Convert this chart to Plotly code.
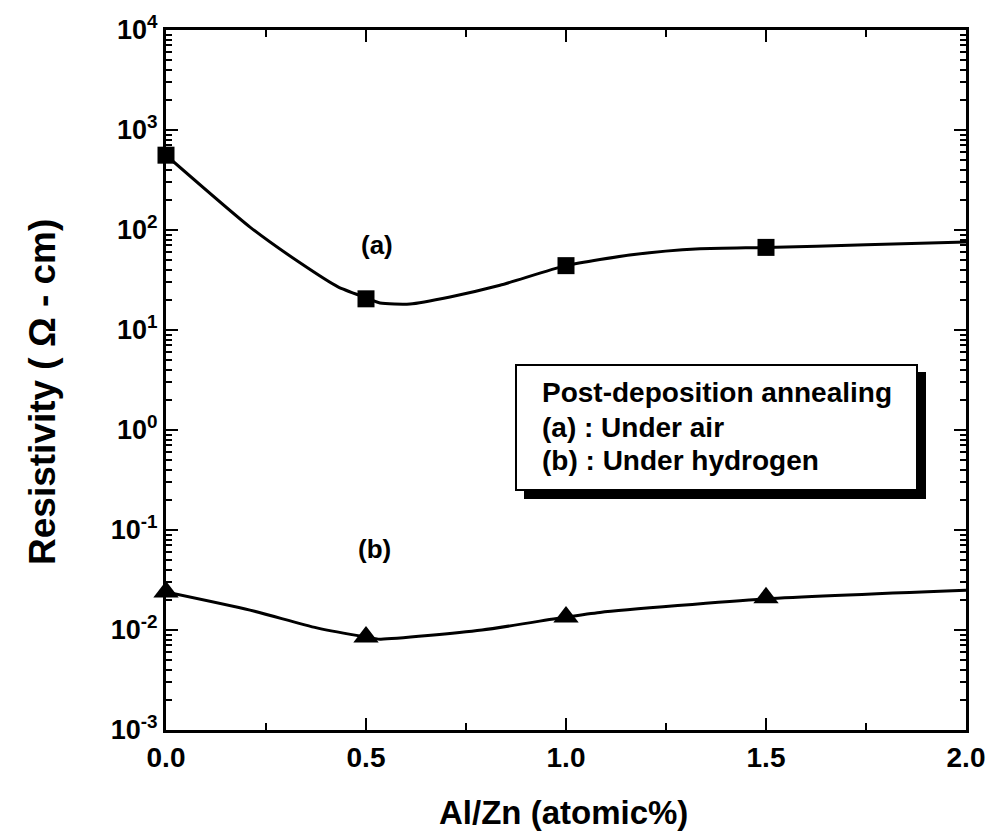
import plotly.graph_objects as go

# Measured data points
x_pts = [0.0, 0.5, 1.0, 1.5]
air_pts = [560, 20.5, 44, 67]
h2_pts = [0.024, 0.0085, 0.0135, 0.021]

# Smooth guide curves
air_curve_x = [0.0, 0.21, 0.335, 0.43, 0.5, 0.535, 0.61, 0.71, 0.835, 1.0, 1.17, 1.335, 1.5, 1.75, 2.0]
air_curve_y = [560, 107, 47, 27, 21, 18.6, 18.2, 21.4, 28, 44, 57, 65, 67, 71, 76]
h2_curve_x = [0.0, 0.21, 0.377, 0.5, 0.535, 0.79, 1.0, 1.085, 1.5, 2.0]
h2_curve_y = [0.024, 0.0158, 0.0105, 0.0085, 0.0081, 0.0100, 0.0135, 0.015, 0.0205, 0.025]

x_ticks = [0.0, 0.5, 1.0, 1.5, 2.0]
x_tick_text = ["0.0", "0.5", "1.0", "1.5", "2.0"]
y_exps = [-3, -2, -1, 0, 1, 2, 3, 4]

FONT = "Liberation Sans, Arial, sans-serif"

fig = go.Figure()
for cx, cy in [(air_curve_x, air_curve_y), (h2_curve_x, h2_curve_y)]:
    fig.add_trace(go.Scatter(x=cx, y=cy, mode="lines",
                             line=dict(color="black", width=3, shape="spline", smoothing=0.6),
                             showlegend=False, hoverinfo="skip"))
fig.add_trace(go.Scatter(x=x_pts, y=air_pts, mode="markers",
                         marker=dict(symbol="square", size=17, color="black"),
                         showlegend=False, cliponaxis=False))
fig.add_trace(go.Scatter(x=x_pts, y=h2_pts, mode="markers",
                         marker=dict(symbol="triangle-up", size=22, color="black"),
                         showlegend=False, cliponaxis=False))

y_vals = [10.0 ** e for e in y_exps]
y_text = ["<b>10<sup>%d</sup></b>" % e for e in y_exps]
minor_y = [m * 10.0 ** e for e in y_exps[:-1] for m in range(2, 10)]

axis_common = dict(showline=True, linecolor="black", linewidth=3, mirror="ticks",
                   ticks="inside", tickcolor="black", tickwidth=2, showgrid=False,
                   zeroline=False)

fig.update_xaxes(range=[0, 2], tickvals=x_ticks,
                 ticktext=["<b>%s</b>" % t for t in x_tick_text],
                 ticklen=12, tickfont=dict(family=FONT, size=28, color="black"),
                 minor=dict(ticks="inside", ticklen=7, tickwidth=2, tickcolor="black",
                            tickvals=[0.25, 0.75, 1.25, 1.75]),
                 **axis_common)
fig.update_yaxes(type="log", range=[-3, 4], tickvals=y_vals, ticktext=y_text,
                 ticklen=12, tickfont=dict(family=FONT, size=27, color="black"),
                 minor=dict(ticks="inside", ticklen=6, tickwidth=1.5, tickcolor="black",
                            tickvals=minor_y),
                 **axis_common)

W, H = 1003, 834
L, R, T, B = 166, 37, 30, 104
pw, ph = W - L - R, H - T - B

def px(xp):
    return (xp - L) / pw

def py(yp):
    return (H - B - yp) / ph

annotations = [
    dict(x=px(563), y=py(812), text="<b>Al/Zn (atomic%)</b>", font=dict(size=33)),
    dict(x=px(42), y=py(392), text="<b>Resistivity ( \u03a9 - cm)</b>", font=dict(size=37),
         textangle=-90),
    dict(x=px(377), y=py(245), text="<b>(a)</b>", font=dict(size=26)),
    dict(x=px(374), y=py(549), text="<b>(b)</b>", font=dict(size=26)),
    dict(x=px(540), y=py(392), text="<b>Post-deposition annealing</b>", xanchor="left",
         font=dict(size=28)),
    dict(x=px(540), y=py(427), text="<b>(a) : Under air</b>", xanchor="left",
         font=dict(size=28)),
    dict(x=px(540), y=py(460), text="<b>(b) : Under hydrogen</b>", xanchor="left",
         font=dict(size=28)),
]
for a in annotations:
    a.update(xref="paper", yref="paper", showarrow=False, yanchor="middle")
    a.setdefault("xanchor", "center")
    a["font"].update(family=FONT, color="black")

shapes = [
    # shadow
    dict(type="rect", x0=px(524), x1=px(926), y0=py(372), y1=py(499),
         fillcolor="black", line=dict(width=0)),
    # box
    dict(type="rect", x0=px(516), x1=px(917), y0=py(365), y1=py(490),
         fillcolor="white", line=dict(color="black", width=2)),
]
for s in shapes:
    s.update(xref="paper", yref="paper", layer="above")

fig.update_layout(width=W, height=H, margin=dict(l=L, r=R, t=T, b=B),
                  plot_bgcolor="white", paper_bgcolor="white",
                  font=dict(family=FONT, color="black"),
                  annotations=annotations, shapes=shapes)

fig.write_html("out.html")
